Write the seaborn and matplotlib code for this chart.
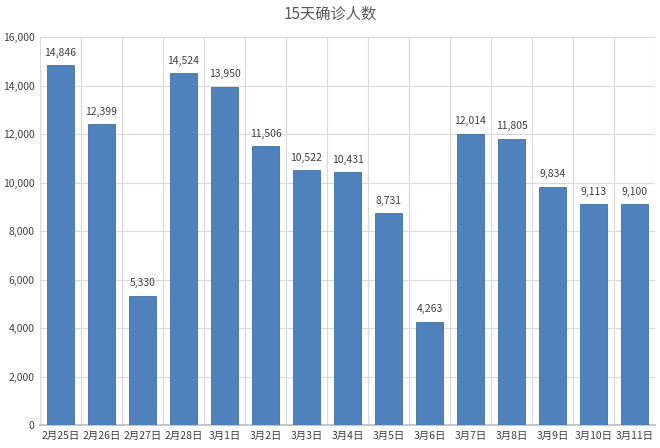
import matplotlib
matplotlib.use("Agg")
import matplotlib.pyplot as plt
import seaborn as sns
import numpy as np
import pandas as pd
from matplotlib.ticker import FuncFormatter, FixedLocator

dates = ["2月25日", "2月26日", "2月27日", "2月28日", "3月1日", "3月2日", "3月3日", "3月4日",
         "3月5日", "3月6日", "3月7日", "3月8日", "3月9日", "3月10日", "3月11日"]
cases = [14846, 12399, 5330, 14524, 13950, 11506, 10522, 10431, 8731, 4263,
         12014, 11805, 9834, 9113, 9100]
title = "15天确诊人数"

sns.set_theme(style="white")
plt.rcParams['font.family'] = ['Noto Sans CJK SC', 'DejaVu Sans']

df = pd.DataFrame({"date": dates, "cases": cases})
fig = plt.figure(figsize=(6.6, 4.48), dpi=100)
ax = fig.add_axes([0.0606, 0.0513, 0.9318, 0.8661])
sns.barplot(data=df, x="date", y="cases", color="#4F81BD", saturation=1, width=0.66, ax=ax,
            zorder=3, edgecolor="#41719C", linewidth=0.6)

ax.set_ylim(0, 16000)
ax.set_xlim(-0.5, len(dates) - 0.5)
ax.set_yticks(np.arange(0, 16001, 2000))
ax.yaxis.set_major_formatter(FuncFormatter(lambda v, p: f"{int(v):,}"))
ax.xaxis.set_minor_locator(FixedLocator(np.arange(-0.5, len(dates), 1.0)))
ax.grid(axis="y", which="major", color="#D9D9D9", linewidth=0.8, zorder=0)
ax.grid(axis="x", which="minor", color="#D9D9D9", linewidth=0.8, zorder=0)
ax.grid(axis="x", which="major", visible=False)
for s in ["top", "right", "left"]:
    ax.spines[s].set_visible(False)
ax.spines["bottom"].set_color("#BFBFBF")
ax.tick_params(axis="both", which="both", length=0, labelsize=7.5, colors="#404040", pad=4)
ax.set_xlabel("")
ax.set_ylabel("")

for i, v in enumerate(cases):
    ax.text(i, v + 300, f"{v:,}", ha="center", va="bottom", fontsize=7.5, color="#404040")

fig.text(0.5, 0.968, title, ha="center", va="center", fontsize=11, color="#595959")
fig.savefig("out.png", dpi=100)
